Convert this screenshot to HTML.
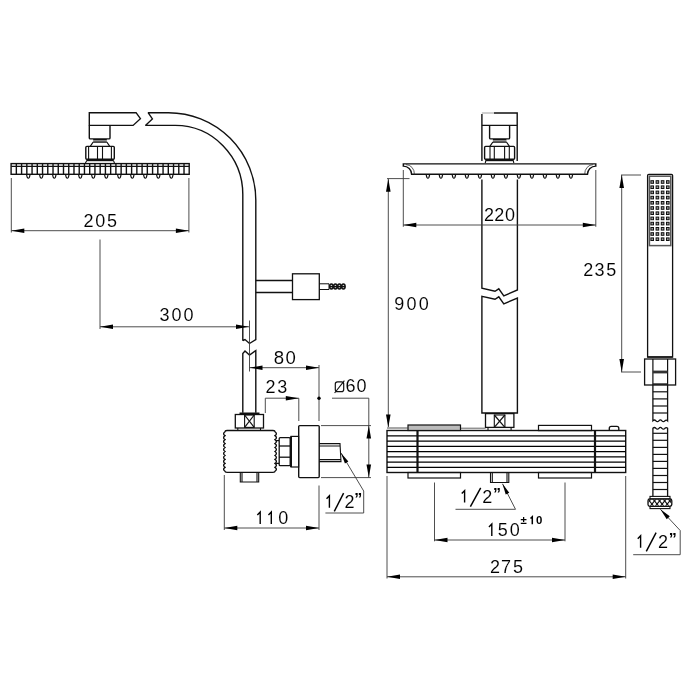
<!DOCTYPE html>
<html><head><meta charset="utf-8"><title>Shower column dimensions</title>
<style>
html,body{margin:0;padding:0;background:#fff;}
body{width:700px;height:700px;overflow:hidden;font-family:"Liberation Sans",sans-serif;}
svg{display:block;filter:grayscale(1)}
svg text{font-family:"Liberation Sans",sans-serif;fill:#000;stroke:#fff;stroke-width:0.08px;}
svg text.sm{stroke:none;font-weight:bold}
svg text.q{font-weight:bold;stroke:none}
</style></head><body>
<svg width="700" height="700" viewBox="0 0 700 700">
<defs><clipPath id="kn"><rect x="648.6" y="499.6" width="22.6" height="6.2" rx="1.4"/></clipPath></defs>
<rect width="700" height="700" fill="#fff"/>
<path d="M89.3,112.7 L136.1,112.7 L140.4,118.7 L133.1,125.4 L89.3,125.4 Z" fill="none" stroke="#111" stroke-width="1.4" stroke-linejoin="miter" />
<path d="M89.3,125.4 L89.3,137.9 Q89.3,138.9 90.3,138.9 L109,138.9 Q110,138.9 110,137.9 L110,125.4" fill="none" stroke="#111" stroke-width="1.4" stroke-linejoin="miter" />
<path d="M93.2,139.7 L106.8,139.7 M93.2,142 L106.8,142" fill="none" stroke="#111" stroke-width="1.3" stroke-linejoin="miter" />
<line x1="93.2" y1="140.85" x2="106.8" y2="140.85" stroke="#777" stroke-width="1.2" />
<path d="M93.2,142 L90.4,146.2 M106.8,142 L109.6,146.2" fill="none" stroke="#111" stroke-width="1.2" stroke-linejoin="miter" />
<rect x="85.8" y="146.4" width="28.5" height="12.9" rx="1" fill="none" stroke="#111" stroke-width="1.4"/>
<line x1="88.6" y1="146.4" x2="88.6" y2="159.3" stroke="#111" stroke-width="1.1" />
<line x1="97.5" y1="146.4" x2="97.5" y2="159.3" stroke="#111" stroke-width="1.1" />
<line x1="102.5" y1="146.4" x2="102.5" y2="159.3" stroke="#111" stroke-width="1.1" />
<line x1="111.4" y1="146.4" x2="111.4" y2="159.3" stroke="#111" stroke-width="1.1" />
<line x1="86.3" y1="160.3" x2="113.8" y2="160.3" stroke="#111" stroke-width="1.8" />
<path d="M86.6,161 L85.4,163 M113.6,161 L114.5,163" fill="none" stroke="#111" stroke-width="1.1" stroke-linejoin="miter" />
<rect x="11.1" y="163.6" width="178.1" height="10.7" rx="0" fill="none" stroke="#111" stroke-width="1.4"/>
<line x1="11.2" y1="166.3" x2="189.2" y2="166.3" stroke="#111" stroke-width="1.3" />
<line x1="16.34" y1="163.6" x2="16.34" y2="174.4" stroke="#111" stroke-width="1.4" />
<line x1="21.58" y1="163.6" x2="21.58" y2="174.4" stroke="#111" stroke-width="1.4" />
<line x1="26.82" y1="163.6" x2="26.82" y2="174.4" stroke="#111" stroke-width="1.4" />
<line x1="32.06" y1="163.6" x2="32.06" y2="174.4" stroke="#111" stroke-width="1.4" />
<line x1="37.3" y1="163.6" x2="37.3" y2="174.4" stroke="#111" stroke-width="1.4" />
<line x1="42.54" y1="163.6" x2="42.54" y2="174.4" stroke="#111" stroke-width="1.4" />
<line x1="47.78" y1="163.6" x2="47.78" y2="174.4" stroke="#111" stroke-width="1.4" />
<line x1="53.02" y1="163.6" x2="53.02" y2="174.4" stroke="#111" stroke-width="1.4" />
<line x1="58.26" y1="163.6" x2="58.26" y2="174.4" stroke="#111" stroke-width="1.4" />
<line x1="63.5" y1="163.6" x2="63.5" y2="174.4" stroke="#111" stroke-width="1.4" />
<line x1="68.74" y1="163.6" x2="68.74" y2="174.4" stroke="#111" stroke-width="1.4" />
<line x1="73.98" y1="163.6" x2="73.98" y2="174.4" stroke="#111" stroke-width="1.4" />
<line x1="79.22" y1="163.6" x2="79.22" y2="174.4" stroke="#111" stroke-width="1.4" />
<line x1="84.46" y1="163.6" x2="84.46" y2="174.4" stroke="#111" stroke-width="1.4" />
<line x1="89.7" y1="163.6" x2="89.7" y2="174.4" stroke="#111" stroke-width="1.4" />
<line x1="94.94" y1="163.6" x2="94.94" y2="174.4" stroke="#111" stroke-width="1.4" />
<line x1="100.18" y1="163.6" x2="100.18" y2="174.4" stroke="#111" stroke-width="1.4" />
<line x1="105.42" y1="163.6" x2="105.42" y2="174.4" stroke="#111" stroke-width="1.4" />
<line x1="110.66" y1="163.6" x2="110.66" y2="174.4" stroke="#111" stroke-width="1.4" />
<line x1="115.9" y1="163.6" x2="115.9" y2="174.4" stroke="#111" stroke-width="1.4" />
<line x1="121.14" y1="163.6" x2="121.14" y2="174.4" stroke="#111" stroke-width="1.4" />
<line x1="126.38" y1="163.6" x2="126.38" y2="174.4" stroke="#111" stroke-width="1.4" />
<line x1="131.62" y1="163.6" x2="131.62" y2="174.4" stroke="#111" stroke-width="1.4" />
<line x1="136.86" y1="163.6" x2="136.86" y2="174.4" stroke="#111" stroke-width="1.4" />
<line x1="142.1" y1="163.6" x2="142.1" y2="174.4" stroke="#111" stroke-width="1.4" />
<line x1="147.34" y1="163.6" x2="147.34" y2="174.4" stroke="#111" stroke-width="1.4" />
<line x1="152.58" y1="163.6" x2="152.58" y2="174.4" stroke="#111" stroke-width="1.4" />
<line x1="157.82" y1="163.6" x2="157.82" y2="174.4" stroke="#111" stroke-width="1.4" />
<line x1="163.06" y1="163.6" x2="163.06" y2="174.4" stroke="#111" stroke-width="1.4" />
<line x1="168.3" y1="163.6" x2="168.3" y2="174.4" stroke="#111" stroke-width="1.4" />
<line x1="173.54" y1="163.6" x2="173.54" y2="174.4" stroke="#111" stroke-width="1.4" />
<line x1="178.78" y1="163.6" x2="178.78" y2="174.4" stroke="#111" stroke-width="1.4" />
<line x1="184.02" y1="163.6" x2="184.02" y2="174.4" stroke="#111" stroke-width="1.4" />
<path d="M26.5,174.4 L27.2,177.3 Q28.3,179.2 29.400000000000002,177.3 L30.1,174.4" fill="none" stroke="#111" stroke-width="1.2" stroke-linejoin="miter" />
<path d="M39.5,174.4 L40.199999999999996,177.3 Q41.3,179.2 42.4,177.3 L43.099999999999994,174.4" fill="none" stroke="#111" stroke-width="1.2" stroke-linejoin="miter" />
<path d="M52.5,174.4 L53.199999999999996,177.3 Q54.3,179.2 55.4,177.3 L56.099999999999994,174.4" fill="none" stroke="#111" stroke-width="1.2" stroke-linejoin="miter" />
<path d="M65.5,174.4 L66.2,177.3 Q67.3,179.2 68.39999999999999,177.3 L69.1,174.4" fill="none" stroke="#111" stroke-width="1.2" stroke-linejoin="miter" />
<path d="M78.5,174.4 L79.2,177.3 Q80.3,179.2 81.39999999999999,177.3 L82.1,174.4" fill="none" stroke="#111" stroke-width="1.2" stroke-linejoin="miter" />
<path d="M91.5,174.4 L92.2,177.3 Q93.3,179.2 94.39999999999999,177.3 L95.1,174.4" fill="none" stroke="#111" stroke-width="1.2" stroke-linejoin="miter" />
<path d="M104.5,174.4 L105.2,177.3 Q106.3,179.2 107.39999999999999,177.3 L108.1,174.4" fill="none" stroke="#111" stroke-width="1.2" stroke-linejoin="miter" />
<path d="M117.5,174.4 L118.2,177.3 Q119.3,179.2 120.39999999999999,177.3 L121.1,174.4" fill="none" stroke="#111" stroke-width="1.2" stroke-linejoin="miter" />
<path d="M130.5,174.4 L131.20000000000002,177.3 Q132.3,179.2 133.4,177.3 L134.10000000000002,174.4" fill="none" stroke="#111" stroke-width="1.2" stroke-linejoin="miter" />
<path d="M143.5,174.4 L144.20000000000002,177.3 Q145.3,179.2 146.4,177.3 L147.10000000000002,174.4" fill="none" stroke="#111" stroke-width="1.2" stroke-linejoin="miter" />
<path d="M156.5,174.4 L157.20000000000002,177.3 Q158.3,179.2 159.4,177.3 L160.10000000000002,174.4" fill="none" stroke="#111" stroke-width="1.2" stroke-linejoin="miter" />
<path d="M169.5,174.4 L170.20000000000002,177.3 Q171.3,179.2 172.4,177.3 L173.10000000000002,174.4" fill="none" stroke="#111" stroke-width="1.2" stroke-linejoin="miter" />
<path d="M148.1,112.7 L168.5,112.7 A87.3,87.5 0 0 1 255.8,200.2 L255.8,339.5 L249.5,343.5 L245,339.5 L242.8,340.5 L242.8,194.5 A67.6,69.1 0 0 0 175.2,125.4 L145.4,125.4 L152.4,118.9 Z" fill="none" stroke="#111" stroke-width="1.4" stroke-linejoin="miter" stroke-miterlimit="1.5"/>
<path d="M242.8,412.8 L242.8,353.5 L245,351 L249.5,355 L255.8,350.5 L255.8,412.8" fill="none" stroke="#111" stroke-width="1.4" stroke-linejoin="miter" />
<line x1="249.5" y1="320.5" x2="249.5" y2="371.5" stroke="#3a3a3a" stroke-width="0.9" />
<path d="M255.8,280.5 L292.5,280.5 M255.8,292.5 L292.5,292.5" fill="none" stroke="#111" stroke-width="1.4" stroke-linejoin="miter" />
<rect x="292.5" y="273.8" width="26.8" height="25.8" rx="0" fill="none" stroke="#111" stroke-width="1.3"/>
<path d="M319.3,283.8 L329,283.8 M319.3,289.5 L329,289.5" fill="none" stroke="#111" stroke-width="1.0" stroke-linejoin="miter" />
<ellipse cx="331.4" cy="286.6" rx="1.7" ry="2.5" fill="none" stroke="#111" stroke-width="1.5"/>
<ellipse cx="335.4" cy="286.6" rx="1.7" ry="2.5" fill="none" stroke="#111" stroke-width="1.5"/>
<ellipse cx="339.4" cy="286.6" rx="1.7" ry="2.5" fill="none" stroke="#111" stroke-width="1.5"/>
<ellipse cx="343.4" cy="286.6" rx="1.7" ry="2.5" fill="none" stroke="#111" stroke-width="1.5"/>
<line x1="329" y1="286.6" x2="345.3" y2="286.6" stroke="#111" stroke-width="1.6" />
<line x1="329" y1="283.8" x2="329" y2="289.5" stroke="#111" stroke-width="1.0" />
<line x1="239.5" y1="413.5" x2="259.5" y2="413.5" stroke="#111" stroke-width="2.0" />
<rect x="235.3" y="414.5" width="28.2" height="13.5" rx="0" fill="none" stroke="#111" stroke-width="1.3"/>
<rect x="244.6" y="415" width="9.6" height="12.4" rx="0" fill="none" stroke="#111" stroke-width="1.1"/>
<line x1="244.6" y1="415" x2="254.2" y2="427.4" stroke="#111" stroke-width="1.2" />
<line x1="254.2" y1="415" x2="244.6" y2="427.4" stroke="#111" stroke-width="1.2" />
<path d="M237.8,428 L237.8,430.5 M260.5,428 L260.5,430.5" fill="none" stroke="#111" stroke-width="1.1" stroke-linejoin="miter" />
<path d="M227,430.5 L273,430.5 Q275,430.5 275,431.7 Q277.8,433.67999999999995 275,435.65999999999997 Q277.8,437.64 275,439.61999999999995 Q277.8,441.6 275,443.58 Q277.8,445.55999999999995 275,447.53999999999996 Q277.8,449.52 275,451.5 Q277.8,453.48 275,455.46 Q277.8,457.43999999999994 275,459.41999999999996 Q277.8,461.4 275,463.38 Q277.8,465.36 275,467.34 Q277.8,469.32000000000005 275,471.3 Q275,472.4 273,472.4 L227,472.4 Q225,472.4 225,471.3 Q222.2,469.32000000000005 225,467.34000000000003 Q222.2,465.36 225,463.38000000000005 Q222.2,461.4 225,459.42 Q222.2,457.44000000000005 225,455.46000000000004 Q222.2,453.48 225,451.5 Q222.2,449.52 225,447.54 Q222.2,445.56000000000006 225,443.58000000000004 Q222.2,441.6 225,439.62 Q222.2,437.64 225,435.66 Q222.2,433.67999999999995 225,431.7 Q225,430.5 227,430.5 Z" fill="none" stroke="#111" stroke-width="1.4" stroke-linejoin="miter" />
<path d="M240.3,472.4 L240.3,482 L258.7,482 L258.7,472.4 M242,472.4 L242,482 M257,472.4 L257,482" fill="none" stroke="#111" stroke-width="1.1" stroke-linejoin="miter" />
<path d="M276,440.6 L279,440.6 M276,463.4 L279,463.4" fill="none" stroke="#111" stroke-width="1.1" stroke-linejoin="miter" />
<rect x="279.2" y="437.7" width="11" height="28" rx="1" fill="none" stroke="#111" stroke-width="1.3"/>
<line x1="279" y1="446" x2="290" y2="446" stroke="#111" stroke-width="1.3" />
<line x1="279" y1="457.2" x2="290" y2="457.2" stroke="#111" stroke-width="1.3" />
<line x1="291" y1="436.4" x2="291" y2="467" stroke="#111" stroke-width="2.0" />
<rect x="291" y="436.4" width="7.6" height="30.6" rx="0" fill="none" stroke="#111" stroke-width="1.2"/>
<rect x="298.7" y="425.6" width="20.5" height="52" rx="1" fill="none" stroke="#111" stroke-width="1.4"/>
<path d="M319.2,443.6 L340,443.6 L341,461.6 L319.2,461.6 M319.2,446 L340,446 M319.2,459.6 L341,459.6" fill="none" stroke="#111" stroke-width="1.1" stroke-linejoin="miter" />
<line x1="11.3" y1="178" x2="11.3" y2="232.5" stroke="#3a3a3a" stroke-width="0.9" />
<line x1="188.9" y1="178" x2="188.9" y2="232.5" stroke="#3a3a3a" stroke-width="0.9" />
<line x1="11.3" y1="230.7" x2="188.9" y2="230.7" stroke="#3a3a3a" stroke-width="0.9" />
<polygon points="11.3,230.7 24.3,228.39999999999998 24.3,233.0" fill="#000"/>
<polygon points="188.9,230.7 175.9,233.0 175.9,228.39999999999998" fill="#000"/>
<text  x="83.44 95.24 107.06" y="226.8" font-size="18">205</text>
<line x1="100" y1="239.5" x2="100" y2="329" stroke="#3a3a3a" stroke-width="0.9" />
<line x1="100" y1="326.8" x2="249" y2="326.8" stroke="#3a3a3a" stroke-width="0.9" />
<polygon points="100,326.8 113.0,324.5 113.0,329.1" fill="#000"/>
<polygon points="249,326.8 236.0,329.1 236.0,324.5" fill="#000"/>
<text  x="159.40 171.44 183.54" y="320.8" font-size="18">300</text>
<line x1="249.5" y1="367.7" x2="319" y2="367.7" stroke="#3a3a3a" stroke-width="0.9" />
<polygon points="249.5,367.7 262.5,365.4 262.5,370.0" fill="#000"/>
<polygon points="319,367.7 306.0,370.0 306.0,365.4" fill="#000"/>
<line x1="319" y1="365" x2="319" y2="421" stroke="#3a3a3a" stroke-width="0.9" />
<text  x="273.68 285.58" y="363.6" font-size="18.6">80</text>
<line x1="265.3" y1="398.2" x2="298.8" y2="398.2" stroke="#3a3a3a" stroke-width="0.9" />
<line x1="265.3" y1="398.2" x2="265.3" y2="413" stroke="#3a3a3a" stroke-width="0.9" />
<line x1="298.8" y1="398.2" x2="298.8" y2="421" stroke="#3a3a3a" stroke-width="0.9" />
<polygon points="298.8,398.2 285.8,400.5 285.8,395.9" fill="#000"/>
<circle cx="319" cy="398.2" r="1.7" fill="#000"/>
<text  x="265.39 277.35" y="392.6" font-size="18">23</text>
<line x1="332" y1="398.2" x2="368.8" y2="398.2" stroke="#3a3a3a" stroke-width="0.9" />
<line x1="368.8" y1="398.2" x2="368.8" y2="477.6" stroke="#3a3a3a" stroke-width="0.9" />
<line x1="321" y1="425.6" x2="371" y2="425.6" stroke="#3a3a3a" stroke-width="0.9" />
<line x1="321" y1="477.6" x2="371" y2="477.6" stroke="#3a3a3a" stroke-width="0.9" />
<polygon points="368.8,425.6 371.1,438.6 366.5,438.6" fill="#000"/>
<polygon points="368.8,477.6 366.5,464.6 371.1,464.6" fill="#000"/>
<text  x="345.43 356.59" y="392.3" font-size="18">60</text>
<rect x="335.3" y="381.8" width="8.4" height="9.8" rx="2.2" fill="none" stroke="#111" stroke-width="1.2"/>
<line x1="334.6" y1="393" x2="344.4" y2="380.6" stroke="#111" stroke-width="1.1" />
<line x1="341" y1="453" x2="363.7" y2="491" stroke="#3a3a3a" stroke-width="0.9" />
<line x1="363.7" y1="491" x2="363.7" y2="513" stroke="#3a3a3a" stroke-width="0.9" />
<line x1="325.4" y1="513" x2="363.7" y2="513" stroke="#3a3a3a" stroke-width="0.9" />
<polygon points="341,453 348.359,461.412 344.92699999999996,463.464" fill="#000"/>
<path d="M326.55,498.69 L329.40,495.74 L329.40,507.70" fill="none" stroke="#000" stroke-width="1.4" stroke-linejoin="miter"/>
<text  x="344.49" y="507.7" font-size="18">2</text>
<line x1="334.3" y1="511.4" x2="343.6" y2="493.2" stroke="#000" stroke-width="1.45"/>
<text class="q" x="354.20" y="504.70" font-size="16">”</text>
<line x1="224.3" y1="475" x2="224.3" y2="530" stroke="#3a3a3a" stroke-width="0.9" />
<line x1="319" y1="485.5" x2="319" y2="530" stroke="#3a3a3a" stroke-width="0.9" />
<line x1="224.3" y1="528" x2="319" y2="528" stroke="#3a3a3a" stroke-width="0.9" />
<polygon points="224.3,528 237.3,525.7 237.3,530.3" fill="#000"/>
<polygon points="319,528 306.0,530.3 306.0,525.7" fill="#000"/>
<path d="M257.35,514.99 L260.20,512.04 L260.20,524.00" fill="none" stroke="#000" stroke-width="1.4" stroke-linejoin="miter"/>
<path d="M268.45,514.99 L271.30,512.04 L271.30,524.00" fill="none" stroke="#000" stroke-width="1.4" stroke-linejoin="miter"/>
<text  x="278.19" y="524" font-size="18">0</text>
<path d="M481.9,161 L481.9,114 M494,113 L517.2,113 L517.2,161" fill="none" stroke="#111" stroke-width="1.4" stroke-linejoin="miter" />
<line x1="481.9" y1="113" x2="494" y2="113" stroke="#888" stroke-width="0.8" />
<line x1="481.9" y1="125.4" x2="517.2" y2="125.4" stroke="#111" stroke-width="1.2" />
<path d="M489.6,125.4 L489.6,137.9 Q489.6,138.9 490.6,138.9 L508.6,138.9 Q509.6,138.9 509.6,137.9 L509.6,125.4" fill="none" stroke="#111" stroke-width="1.4" stroke-linejoin="miter" />
<path d="M492.9,139.7 L506.4,139.7 M492.9,142 L506.4,142" fill="none" stroke="#111" stroke-width="1.3" stroke-linejoin="miter" />
<line x1="492.9" y1="140.85" x2="506.4" y2="140.85" stroke="#777" stroke-width="1.2" />
<path d="M492.9,142 L490,146.2 M506.4,142 L509.3,146.2" fill="none" stroke="#111" stroke-width="1.2" stroke-linejoin="miter" />
<rect x="484.6" y="146.4" width="30" height="12.9" rx="1" fill="none" stroke="#111" stroke-width="1.4"/>
<line x1="490" y1="146.4" x2="490" y2="159.3" stroke="#111" stroke-width="1.1" />
<line x1="494.3" y1="146.4" x2="494.3" y2="159.3" stroke="#111" stroke-width="1.1" />
<line x1="504.6" y1="146.4" x2="504.6" y2="159.3" stroke="#111" stroke-width="1.1" />
<line x1="509.3" y1="146.4" x2="509.3" y2="159.3" stroke="#111" stroke-width="1.1" />
<line x1="485.3" y1="160.3" x2="513.8" y2="160.3" stroke="#111" stroke-width="1.8" />
<path d="M485.8,161 L485.2,163 M513.4,161 L513.8,163" fill="none" stroke="#111" stroke-width="1.1" stroke-linejoin="miter" />
<path d="M403.3,163.9 L595.8,163.9 L595.8,166.1 A8.3,8.1 0 0 0 587.5,174.3 L411.6,174.3 A8.3,8.1 0 0 0 403.3,166.1 Z" fill="none" stroke="#111" stroke-width="1.4" stroke-linejoin="miter" />
<path d="M406,164.6 A8.4,9.4 0 0 1 414.4,174.3 M593.1,164.6 A8.4,9.4 0 0 0 584.7,174.3" fill="none" stroke="#333" stroke-width="0.8" stroke-linejoin="miter" />
<path d="M426.09999999999997,174.3 L426.79999999999995,177.2 Q427.9,179.1 429.0,177.2 L429.7,174.3" fill="none" stroke="#111" stroke-width="1.2" stroke-linejoin="miter" />
<path d="M439.09999999999997,174.3 L439.79999999999995,177.2 Q440.9,179.1 442.0,177.2 L442.7,174.3" fill="none" stroke="#111" stroke-width="1.2" stroke-linejoin="miter" />
<path d="M452.09999999999997,174.3 L452.79999999999995,177.2 Q453.9,179.1 455.0,177.2 L455.7,174.3" fill="none" stroke="#111" stroke-width="1.2" stroke-linejoin="miter" />
<path d="M465.09999999999997,174.3 L465.79999999999995,177.2 Q466.9,179.1 468.0,177.2 L468.7,174.3" fill="none" stroke="#111" stroke-width="1.2" stroke-linejoin="miter" />
<path d="M478.09999999999997,174.3 L478.79999999999995,177.2 Q479.9,179.1 481.0,177.2 L481.7,174.3" fill="none" stroke="#111" stroke-width="1.2" stroke-linejoin="miter" />
<path d="M491.09999999999997,174.3 L491.79999999999995,177.2 Q492.9,179.1 494.0,177.2 L494.7,174.3" fill="none" stroke="#111" stroke-width="1.2" stroke-linejoin="miter" />
<path d="M504.09999999999997,174.3 L504.79999999999995,177.2 Q505.9,179.1 507.0,177.2 L507.7,174.3" fill="none" stroke="#111" stroke-width="1.2" stroke-linejoin="miter" />
<path d="M517.1,174.3 L517.8,177.2 Q518.9,179.1 520.0,177.2 L520.6999999999999,174.3" fill="none" stroke="#111" stroke-width="1.2" stroke-linejoin="miter" />
<path d="M530.1,174.3 L530.8,177.2 Q531.9,179.1 533.0,177.2 L533.6999999999999,174.3" fill="none" stroke="#111" stroke-width="1.2" stroke-linejoin="miter" />
<path d="M543.1,174.3 L543.8,177.2 Q544.9,179.1 546.0,177.2 L546.6999999999999,174.3" fill="none" stroke="#111" stroke-width="1.2" stroke-linejoin="miter" />
<path d="M556.1,174.3 L556.8,177.2 Q557.9,179.1 559.0,177.2 L559.6999999999999,174.3" fill="none" stroke="#111" stroke-width="1.2" stroke-linejoin="miter" />
<path d="M569.1,174.3 L569.8,177.2 Q570.9,179.1 572.0,177.2 L572.6999999999999,174.3" fill="none" stroke="#111" stroke-width="1.2" stroke-linejoin="miter" />
<path d="M481.9,179.5 L481.9,288.3 L495,291.3 L498.8,288.8 L503.8,295.8 L517.4,290 L517.4,179.5" fill="none" stroke="#111" stroke-width="1.4" stroke-linejoin="miter" />
<path d="M481.9,413 L481.9,296.3 L495,299.3 L498.8,296.8 L503.8,303.8 L517.4,298 L517.4,413 Z" fill="none" stroke="#111" stroke-width="1.4" stroke-linejoin="miter" />
<rect x="485.5" y="413.6" width="28.4" height="13.8" rx="0" fill="none" stroke="#111" stroke-width="1.3"/>
<rect x="494.3" y="415" width="10.6" height="12.4" rx="0" fill="none" stroke="#111" stroke-width="1.1"/>
<line x1="494.3" y1="415" x2="504.9" y2="427.4" stroke="#111" stroke-width="1.2" />
<line x1="504.9" y1="415" x2="494.3" y2="427.4" stroke="#111" stroke-width="1.2" />
<path d="M488,427.5 L488,430.5 M511.1,427.5 L511.1,430.5" fill="none" stroke="#111" stroke-width="1.1" stroke-linejoin="miter" />
<rect x="387" y="430.5" width="238.7" height="42" rx="0" fill="none" stroke="#111" stroke-width="1.4"/>
<line x1="387" y1="435.86" x2="625.7" y2="435.86" stroke="#000" stroke-width="1.35" />
<line x1="387" y1="441.12" x2="625.7" y2="441.12" stroke="#000" stroke-width="1.35" />
<line x1="387" y1="446.38" x2="625.7" y2="446.38" stroke="#000" stroke-width="1.35" />
<line x1="387" y1="451.64" x2="625.7" y2="451.64" stroke="#000" stroke-width="1.35" />
<line x1="387" y1="456.9" x2="625.7" y2="456.9" stroke="#000" stroke-width="1.35" />
<line x1="387" y1="462.16" x2="625.7" y2="462.16" stroke="#000" stroke-width="1.35" />
<line x1="387" y1="467.42" x2="625.7" y2="467.42" stroke="#000" stroke-width="1.35" />
<line x1="417.5" y1="430.5" x2="417.5" y2="472.5" stroke="#111" stroke-width="2.2" />
<line x1="595" y1="430.5" x2="595" y2="472.5" stroke="#111" stroke-width="2.2" />
<rect x="408" y="425" width="52.5" height="5.5" rx="0" fill="#bbb" stroke="#111" stroke-width="1.2"/>
<rect x="408" y="472.5" width="52.5" height="5.5" rx="0" fill="none" stroke="#111" stroke-width="1.2"/>
<rect x="538.5" y="425.4" width="53" height="5.2" rx="0" fill="none" stroke="#111" stroke-width="1.2"/>
<rect x="538.5" y="472.5" width="53" height="5.5" rx="0" fill="none" stroke="#111" stroke-width="1.2"/>
<path d="M609.3,430.5 L609.3,428.2 Q609.3,426.3 611.2,426.3 L616.9,426.3 Q618.8,426.3 618.8,428.2 L618.8,430.5" fill="none" stroke="#111" stroke-width="1.35" stroke-linejoin="miter" />
<path d="M490.5,472.5 L490.5,482.5 L508.8,482.5 L508.8,472.5 M492.3,472.5 L492.3,482.5 M507,472.5 L507,482.5" fill="none" stroke="#111" stroke-width="1.1" stroke-linejoin="miter" />
<line x1="502.5" y1="483.8" x2="515.5" y2="509.3" stroke="#3a3a3a" stroke-width="0.9" />
<line x1="455.5" y1="509.3" x2="515.5" y2="509.3" stroke="#3a3a3a" stroke-width="0.9" />
<polygon points="502.5,483.8 509.276,492.693 505.71200000000005,494.509" fill="#000"/>
<path d="M461.75,493.59 L464.60,490.64 L464.60,502.60" fill="none" stroke="#000" stroke-width="1.4" stroke-linejoin="miter"/>
<text  x="482.34" y="502.6" font-size="18">2</text>
<line x1="470.4" y1="506.7" x2="480.7" y2="487.9" stroke="#000" stroke-width="1.45"/>
<text class="q" x="493.00" y="499.60" font-size="16">”</text>
<line x1="388.3" y1="178.8" x2="388.3" y2="427" stroke="#3a3a3a" stroke-width="0.9" />
<line x1="387" y1="178.6" x2="409.5" y2="178.6" stroke="#3a3a3a" stroke-width="0.9" />
<line x1="387" y1="428" x2="408" y2="428" stroke="#3a3a3a" stroke-width="0.9" />
<line x1="461" y1="428.2" x2="485.5" y2="428.2" stroke="#3a3a3a" stroke-width="0.8" />
<polygon points="388.3,178.8 390.6,191.8 386.0,191.8" fill="#000"/>
<polygon points="388.3,427.5 386.0,414.5 390.6,414.5" fill="#000"/>
<text  x="394.25 406.44 418.64" y="309.6" font-size="18">900</text>
<line x1="403.3" y1="170" x2="403.3" y2="226.8" stroke="#3a3a3a" stroke-width="0.9" />
<line x1="595.8" y1="170" x2="595.8" y2="226.8" stroke="#3a3a3a" stroke-width="0.9" />
<line x1="403.3" y1="225" x2="595.8" y2="225" stroke="#3a3a3a" stroke-width="0.9" />
<polygon points="403.3,225 416.3,222.7 416.3,227.3" fill="#000"/>
<polygon points="595.8,225 582.8,227.3 582.8,222.7" fill="#000"/>
<text  x="483.99 494.29 504.99" y="220.8" font-size="18">220</text>
<line x1="434.5" y1="482.5" x2="434.5" y2="541.3" stroke="#3a3a3a" stroke-width="0.9" />
<line x1="565" y1="482.5" x2="565" y2="541.3" stroke="#3a3a3a" stroke-width="0.9" />
<line x1="434.5" y1="540" x2="565" y2="540" stroke="#3a3a3a" stroke-width="0.9" />
<polygon points="434.5,540 447.5,537.7 447.5,542.3" fill="#000"/>
<polygon points="565,540 552.0,542.3 552.0,537.7" fill="#000"/>
<path d="M488.95,526.89 L491.80,523.94 L491.80,535.90" fill="none" stroke="#000" stroke-width="1.4" stroke-linejoin="miter"/>
<text  x="497.71 509.84" y="535.9" font-size="18">50</text>
<path d="M530.49,518.59 L532.29,516.73 L532.29,524.30" fill="none" stroke="#000" stroke-width="1.5" stroke-linejoin="miter"/>
<text class="sm" x="520.57 536.08" y="524.3" font-size="11.4">±0</text>
<line x1="387" y1="476" x2="387" y2="578.5" stroke="#3a3a3a" stroke-width="0.9" />
<line x1="625.7" y1="476" x2="625.7" y2="578.5" stroke="#3a3a3a" stroke-width="0.9" />
<line x1="387" y1="576.8" x2="625.7" y2="576.8" stroke="#3a3a3a" stroke-width="0.9" />
<polygon points="387,576.8 400.0,574.5 400.0,579.0999999999999" fill="#000"/>
<polygon points="625.7,576.8 612.7,579.0999999999999 612.7,574.5" fill="#000"/>
<text  x="489.89 500.89 513.01" y="572.8" font-size="18">275</text>
<path d="M647.6,357 L647.6,175.6 Q647.6,174.4 648.8,174.4 L671.4,174.4 Q672.6,174.4 672.6,175.6 L672.6,357 Z" fill="none" stroke="#111" stroke-width="1.3" stroke-linejoin="miter" />
<rect x="649.4" y="176.2" width="21.4" height="69.4" rx="0" fill="none" stroke="#555" stroke-width="1.5"/>
<rect x="650.90" y="180.70" width="2.6" height="2.6" fill="#999" stroke="#111" stroke-width="1.0"/>
<rect x="656.10" y="180.70" width="2.6" height="2.6" fill="#999" stroke="#111" stroke-width="1.0"/>
<rect x="661.30" y="180.70" width="2.6" height="2.6" fill="#999" stroke="#111" stroke-width="1.0"/>
<rect x="666.50" y="180.70" width="2.6" height="2.6" fill="#999" stroke="#111" stroke-width="1.0"/>
<rect x="650.90" y="185.90" width="2.6" height="2.6" fill="#999" stroke="#111" stroke-width="1.0"/>
<rect x="656.10" y="185.90" width="2.6" height="2.6" fill="#999" stroke="#111" stroke-width="1.0"/>
<rect x="661.30" y="185.90" width="2.6" height="2.6" fill="#999" stroke="#111" stroke-width="1.0"/>
<rect x="666.50" y="185.90" width="2.6" height="2.6" fill="#999" stroke="#111" stroke-width="1.0"/>
<rect x="650.90" y="191.10" width="2.6" height="2.6" fill="#999" stroke="#111" stroke-width="1.0"/>
<rect x="656.10" y="191.10" width="2.6" height="2.6" fill="#999" stroke="#111" stroke-width="1.0"/>
<rect x="661.30" y="191.10" width="2.6" height="2.6" fill="#999" stroke="#111" stroke-width="1.0"/>
<rect x="666.50" y="191.10" width="2.6" height="2.6" fill="#999" stroke="#111" stroke-width="1.0"/>
<rect x="650.90" y="196.30" width="2.6" height="2.6" fill="#999" stroke="#111" stroke-width="1.0"/>
<rect x="656.10" y="196.30" width="2.6" height="2.6" fill="#999" stroke="#111" stroke-width="1.0"/>
<rect x="661.30" y="196.30" width="2.6" height="2.6" fill="#999" stroke="#111" stroke-width="1.0"/>
<rect x="666.50" y="196.30" width="2.6" height="2.6" fill="#999" stroke="#111" stroke-width="1.0"/>
<rect x="650.90" y="201.50" width="2.6" height="2.6" fill="#999" stroke="#111" stroke-width="1.0"/>
<rect x="656.10" y="201.50" width="2.6" height="2.6" fill="#999" stroke="#111" stroke-width="1.0"/>
<rect x="661.30" y="201.50" width="2.6" height="2.6" fill="#999" stroke="#111" stroke-width="1.0"/>
<rect x="666.50" y="201.50" width="2.6" height="2.6" fill="#999" stroke="#111" stroke-width="1.0"/>
<rect x="650.90" y="206.70" width="2.6" height="2.6" fill="#999" stroke="#111" stroke-width="1.0"/>
<rect x="656.10" y="206.70" width="2.6" height="2.6" fill="#999" stroke="#111" stroke-width="1.0"/>
<rect x="661.30" y="206.70" width="2.6" height="2.6" fill="#999" stroke="#111" stroke-width="1.0"/>
<rect x="666.50" y="206.70" width="2.6" height="2.6" fill="#999" stroke="#111" stroke-width="1.0"/>
<rect x="650.90" y="211.90" width="2.6" height="2.6" fill="#999" stroke="#111" stroke-width="1.0"/>
<rect x="656.10" y="211.90" width="2.6" height="2.6" fill="#999" stroke="#111" stroke-width="1.0"/>
<rect x="661.30" y="211.90" width="2.6" height="2.6" fill="#999" stroke="#111" stroke-width="1.0"/>
<rect x="666.50" y="211.90" width="2.6" height="2.6" fill="#999" stroke="#111" stroke-width="1.0"/>
<rect x="650.90" y="217.10" width="2.6" height="2.6" fill="#999" stroke="#111" stroke-width="1.0"/>
<rect x="656.10" y="217.10" width="2.6" height="2.6" fill="#999" stroke="#111" stroke-width="1.0"/>
<rect x="661.30" y="217.10" width="2.6" height="2.6" fill="#999" stroke="#111" stroke-width="1.0"/>
<rect x="666.50" y="217.10" width="2.6" height="2.6" fill="#999" stroke="#111" stroke-width="1.0"/>
<rect x="650.90" y="222.30" width="2.6" height="2.6" fill="#999" stroke="#111" stroke-width="1.0"/>
<rect x="656.10" y="222.30" width="2.6" height="2.6" fill="#999" stroke="#111" stroke-width="1.0"/>
<rect x="661.30" y="222.30" width="2.6" height="2.6" fill="#999" stroke="#111" stroke-width="1.0"/>
<rect x="666.50" y="222.30" width="2.6" height="2.6" fill="#999" stroke="#111" stroke-width="1.0"/>
<rect x="650.90" y="227.50" width="2.6" height="2.6" fill="#999" stroke="#111" stroke-width="1.0"/>
<rect x="656.10" y="227.50" width="2.6" height="2.6" fill="#999" stroke="#111" stroke-width="1.0"/>
<rect x="661.30" y="227.50" width="2.6" height="2.6" fill="#999" stroke="#111" stroke-width="1.0"/>
<rect x="666.50" y="227.50" width="2.6" height="2.6" fill="#999" stroke="#111" stroke-width="1.0"/>
<rect x="650.90" y="232.70" width="2.6" height="2.6" fill="#999" stroke="#111" stroke-width="1.0"/>
<rect x="656.10" y="232.70" width="2.6" height="2.6" fill="#999" stroke="#111" stroke-width="1.0"/>
<rect x="661.30" y="232.70" width="2.6" height="2.6" fill="#999" stroke="#111" stroke-width="1.0"/>
<rect x="666.50" y="232.70" width="2.6" height="2.6" fill="#999" stroke="#111" stroke-width="1.0"/>
<rect x="650.90" y="237.90" width="2.6" height="2.6" fill="#999" stroke="#111" stroke-width="1.0"/>
<rect x="656.10" y="237.90" width="2.6" height="2.6" fill="#999" stroke="#111" stroke-width="1.0"/>
<rect x="661.30" y="237.90" width="2.6" height="2.6" fill="#999" stroke="#111" stroke-width="1.0"/>
<rect x="666.50" y="237.90" width="2.6" height="2.6" fill="#999" stroke="#111" stroke-width="1.0"/>
<rect x="644.6" y="359" width="31" height="26" rx="0" fill="none" stroke="#111" stroke-width="1.3"/>
<line x1="652.9" y1="359" x2="652.9" y2="385" stroke="#111" stroke-width="1.2" />
<line x1="667.6" y1="359" x2="667.6" y2="385" stroke="#111" stroke-width="1.2" />
<line x1="652.9" y1="372" x2="667.6" y2="372" stroke="#333" stroke-width="2.8" />
<line x1="652.9" y1="384.2" x2="667.6" y2="384.2" stroke="#222" stroke-width="1.8" />
<line x1="647.6" y1="357" x2="672.6" y2="357" stroke="#111" stroke-width="1.2" />
<path d="M652.9,385 L652.9,420.8 q1.5,-1.5 3,0 q1.5,1.8 3,0 q1.5,-1.8 3,0 q1.5,1.8 3,0 q1.4,-1.5 2.7,0 L667.6,385" fill="none" stroke="#111" stroke-width="1.3" stroke-linejoin="miter" />
<line x1="652.9" y1="391.8" x2="667.6" y2="391.8" stroke="#111" stroke-width="1.2" />
<line x1="652.9" y1="398.9" x2="667.6" y2="398.9" stroke="#111" stroke-width="1.2" />
<line x1="652.9" y1="406" x2="667.6" y2="406" stroke="#111" stroke-width="1.2" />
<line x1="652.9" y1="413" x2="667.6" y2="413" stroke="#111" stroke-width="1.2" />
<path d="M652.9,496.5 L652.9,428.3 q1.5,-1.5 3,0 q1.5,1.8 3,0 q1.5,-1.8 3,0 q1.5,1.8 3,0 q1.4,-1.5 2.7,0 L667.6,496.5" fill="none" stroke="#111" stroke-width="1.3" stroke-linejoin="miter" />
<line x1="652.9" y1="433.3" x2="667.6" y2="433.3" stroke="#111" stroke-width="1.2" />
<line x1="652.9" y1="440.3" x2="667.6" y2="440.3" stroke="#111" stroke-width="1.2" />
<line x1="652.9" y1="447.4" x2="667.6" y2="447.4" stroke="#111" stroke-width="1.2" />
<line x1="652.9" y1="454.4" x2="667.6" y2="454.4" stroke="#111" stroke-width="1.2" />
<line x1="652.9" y1="461.4" x2="667.6" y2="461.4" stroke="#111" stroke-width="1.2" />
<line x1="652.9" y1="468.4" x2="667.6" y2="468.4" stroke="#111" stroke-width="1.2" />
<line x1="652.9" y1="475.5" x2="667.6" y2="475.5" stroke="#111" stroke-width="1.2" />
<line x1="652.9" y1="482.5" x2="667.6" y2="482.5" stroke="#111" stroke-width="1.2" />
<line x1="652.9" y1="489.5" x2="667.6" y2="489.5" stroke="#111" stroke-width="1.2" />
<rect x="650" y="496.4" width="20" height="2.6" rx="0" fill="none" stroke="#111" stroke-width="1.1"/>
<rect x="650" y="506.4" width="20" height="2.2" rx="0" fill="none" stroke="#111" stroke-width="1.1"/>
<rect x="648" y="499" width="23.8" height="7.4" rx="1.8" fill="#fff" stroke="#111" stroke-width="1.3"/>
<g stroke="#111" stroke-width="1.15" clip-path="url(#kn)">
<line x1="630.25" y1="496.10" x2="640.45" y2="508.90"/>
<line x1="632.80" y1="508.90" x2="643.00" y2="496.10"/>
<line x1="635.35" y1="496.10" x2="645.55" y2="508.90"/>
<line x1="637.90" y1="508.90" x2="648.10" y2="496.10"/>
<line x1="640.45" y1="496.10" x2="650.65" y2="508.90"/>
<line x1="643.00" y1="508.90" x2="653.20" y2="496.10"/>
<line x1="645.55" y1="496.10" x2="655.75" y2="508.90"/>
<line x1="648.10" y1="508.90" x2="658.30" y2="496.10"/>
<line x1="650.65" y1="496.10" x2="660.85" y2="508.90"/>
<line x1="653.20" y1="508.90" x2="663.40" y2="496.10"/>
<line x1="655.75" y1="496.10" x2="665.95" y2="508.90"/>
<line x1="658.30" y1="508.90" x2="668.50" y2="496.10"/>
<line x1="660.85" y1="496.10" x2="671.05" y2="508.90"/>
<line x1="663.40" y1="508.90" x2="673.60" y2="496.10"/>
<line x1="665.95" y1="496.10" x2="676.15" y2="508.90"/>
<line x1="668.50" y1="508.90" x2="678.70" y2="496.10"/>
<line x1="671.05" y1="496.10" x2="681.25" y2="508.90"/>
<line x1="673.60" y1="508.90" x2="683.80" y2="496.10"/>
<line x1="676.15" y1="496.10" x2="686.35" y2="508.90"/>
<line x1="678.70" y1="508.90" x2="688.90" y2="496.10"/>
<line x1="681.25" y1="496.10" x2="691.45" y2="508.90"/>
<line x1="683.80" y1="508.90" x2="694.00" y2="496.10"/>
</g>
<line x1="660.4" y1="509.3" x2="680.2" y2="530.5" stroke="#3a3a3a" stroke-width="0.9" />
<line x1="680.2" y1="530.5" x2="680.2" y2="554.7" stroke="#3a3a3a" stroke-width="0.9" />
<line x1="633.2" y1="554.7" x2="680.2" y2="554.7" stroke="#3a3a3a" stroke-width="0.9" />
<polygon points="660.4,509.3 669.7896000000001,516.2722 666.7194,519.1408" fill="#000"/>
<path d="M637.75,538.79 L640.60,535.84 L640.60,547.80" fill="none" stroke="#000" stroke-width="1.4" stroke-linejoin="miter"/>
<text  x="657.99" y="547.8" font-size="18">2</text>
<line x1="646.3" y1="551.4" x2="656.1" y2="532.7" stroke="#000" stroke-width="1.45"/>
<text class="q" x="668.65" y="544.80" font-size="16">”</text>
<line x1="621.7" y1="175" x2="621.7" y2="372" stroke="#3a3a3a" stroke-width="0.9" />
<line x1="621" y1="175" x2="641" y2="175" stroke="#3a3a3a" stroke-width="0.9" />
<line x1="621" y1="372" x2="641" y2="372" stroke="#3a3a3a" stroke-width="0.9" />
<polygon points="621.7,175 624.0,188.0 619.4000000000001,188.0" fill="#000"/>
<polygon points="621.7,372 619.4000000000001,359.0 624.0,359.0" fill="#000"/>
<text  x="583.29 594.45 606.21" y="275.8" font-size="18">235</text>
</svg>
</body></html>
